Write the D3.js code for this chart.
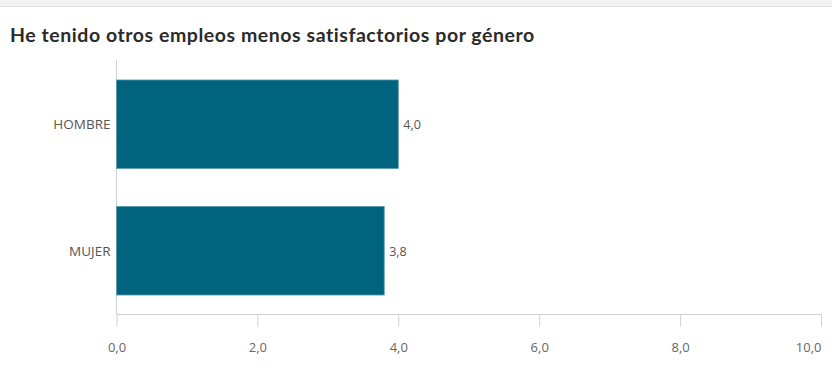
<!DOCTYPE html>
<html>
<head>
<meta charset="utf-8">
<script src="https://cdn.jsdelivr.net/npm/d3@7"></script>
<style>
  html, body { margin: 0; padding: 0; background: #fff; }
  svg { display: block; }
</style>
</head>
<body>
<svg id="chart" width="832" height="375"></svg>
<script>
const categories = ["HOMBRE", "MUJER"];
const values = [4.0, 3.8];
const tickValues = [0, 2, 4, 6, 8, 10];
const title = "He tenido otros empleos menos satisfactorios por género";

const svg = d3.select("#chart");
const W = 832, H = 375;
const margin = { top: 60, right: 11, bottom: 61, left: 116.5 };
const fmt = v => d3.format(".1f")(v).replace(".", ",");

// top strip
svg.append("rect").attr("x", 0).attr("y", 0).attr("width", W).attr("height", 6).attr("fill", "#f2f2f2");
svg.append("line").attr("x1", 0).attr("x2", W).attr("y1", 6.5).attr("y2", 6.5).attr("stroke", "#dedede");

svg.append("text")
  .attr("x", 10).attr("y", 42)
  .attr("font-family", "Lato, 'Open Sans', sans-serif")
  .attr("font-weight", "bold")
  .attr("font-size", 19.5)
  .attr("letter-spacing", 0.55)
  .attr("fill", "#2b2b2b")
  .text(title);

const x = d3.scaleLinear().domain([0, 10]).range([margin.left, W - margin.right]);
const y = d3.scaleBand().domain(categories).range([margin.top + 1, H - margin.bottom]).paddingInner(0.3).paddingOuter(0.15);

const axisY = H - margin.bottom + 0.5;

// vertical baseline
svg.append("line")
  .attr("x1", x(0)).attr("x2", x(0))
  .attr("y1", margin.top).attr("y2", axisY)
  .attr("stroke", "#d0d0d0");

// bars
svg.selectAll("rect.bar").data(categories).join("rect")
  .attr("class", "bar")
  .attr("x", x(0))
  .attr("y", d => y(d))
  .attr("width", (d, i) => x(values[i]) - x(0))
  .attr("height", y.bandwidth())
  .attr("fill", "#00647f")
  .attr("stroke", "#5a9bb0")
  .attr("stroke-width", 0.8);

// value labels
svg.selectAll("text.val").data(categories).join("text")
  .attr("class", "val")
  .attr("x", (d, i) => x(values[i]) + 5)
  .attr("y", d => y(d) + y.bandwidth() / 2 + 5)
  .attr("font-family", "'Open Sans', sans-serif")
  .attr("font-size", 12.5)
  .attr("fill", "#555")
  .text((d, i) => fmt(values[i]));

// category labels
svg.selectAll("text.cat").data(categories).join("text")
  .attr("class", "cat")
  .attr("x", x(0) - 6)
  .attr("y", d => y(d) + y.bandwidth() / 2 + 5)
  .attr("text-anchor", "end")
  .attr("font-family", "'Open Sans', sans-serif")
  .attr("font-size", 13.5)
  .attr("fill", "#555")
  .text(d => d);

// x axis
const xAxis = d3.axisBottom(x)
  .tickValues(tickValues)
  .tickSize(12)
  .tickPadding(16)
  .tickFormat(fmt);

const gx = svg.append("g").attr("transform", `translate(0,${axisY})`).call(xAxis);
gx.select(".domain").attr("stroke", "#d0d0d0").attr("d", `M${x(0)},0H${x(10)}`);
gx.selectAll(".tick line").attr("stroke", "#d0d0d0");
gx.selectAll(".tick text")
  .attr("font-family", "'Open Sans', sans-serif")
  .attr("font-size", 13)
  .attr("fill", "#666")
  .attr("text-anchor", d => d === tickValues[tickValues.length - 1] ? "end" : "middle");
</script>
</body>
</html>
